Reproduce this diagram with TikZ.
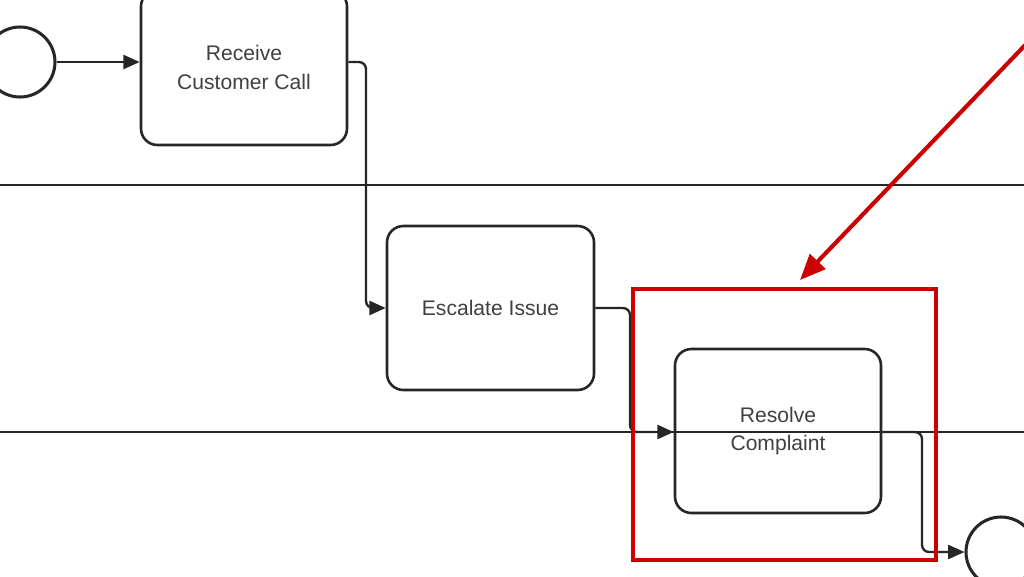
\documentclass[tikz,border=0pt]{standalone}
\usepackage{fontspec}
\setmainfont{Liberation Sans}
\usetikzlibrary{arrows.meta}
\begin{document}
\begin{tikzpicture}[x=0.03cm,y=-0.03cm,
  task/.style={draw=black!85,line width=2.2pt,rounded corners=14pt,align=center,
    font=\fontsize{18}{24}\selectfont,text=black!75},
  flow/.style={draw=black!85,line width=2pt,rounded corners=6pt,-{Triangle[length=14pt,width=12pt]}},
  ev/.style={draw=black!85,line width=2.6pt,circle,minimum size=2.1cm,inner sep=0pt}]
\useasboundingbox (0,0) rectangle (1024,576);
\fill[white] (0,0) rectangle (1024,576);
\begin{scope}
\clip (0,0) rectangle (1024,576);
\draw[black!85,line width=1.4pt] (0,185) -- (1024,185);
\draw[black!85,line width=1.4pt] (0,432) -- (1024,432);
\node[ev] (s) at (20,62) {};
\node[ev] (e) at (1001,552) {};
\node[task,minimum width=206*0.03cm,minimum height=155*0.03cm] (r) at (244,67.5) {Receive\\Customer Call};
\node[task,minimum width=207*0.03cm,minimum height=164*0.03cm] (esc) at (490.5,308) {Escalate Issue};
\node[task,minimum width=206*0.03cm,minimum height=164*0.03cm] (res) at (778,431) {Resolve\\Complaint};
\coordinate (c1) at (366,62);
\coordinate (c2) at (366,308);
\coordinate (c3) at (630,308);
\coordinate (c4) at (630,432);
\coordinate (c5) at (922,432);
\coordinate (c6) at (922,552);
\draw[flow] (s.east) -- (r.west |- s.east);
\draw[flow] (r.east |- c1) -- (c1) -- (c2) -- (esc.west);
\draw[flow] (esc.east) -- (c3) -- (c4) -- (res.west |- c4);
\draw[flow] (res.east |- c5) -- (c5) -- (c6) -- (e.west);
\node[draw=red!80!black,line width=3.5pt,minimum width=303*0.03cm,minimum height=271*0.03cm,inner sep=0pt] (box) at (784.5,424.5) {};
\coordinate (a0) at (1030,40);
\coordinate (a1) at (800,280);
\draw[red!80!black,line width=3.5pt,-{Triangle[length=22pt,width=18pt]}] (a0) -- (a1);
\end{scope}
\end{tikzpicture}
\end{document}
